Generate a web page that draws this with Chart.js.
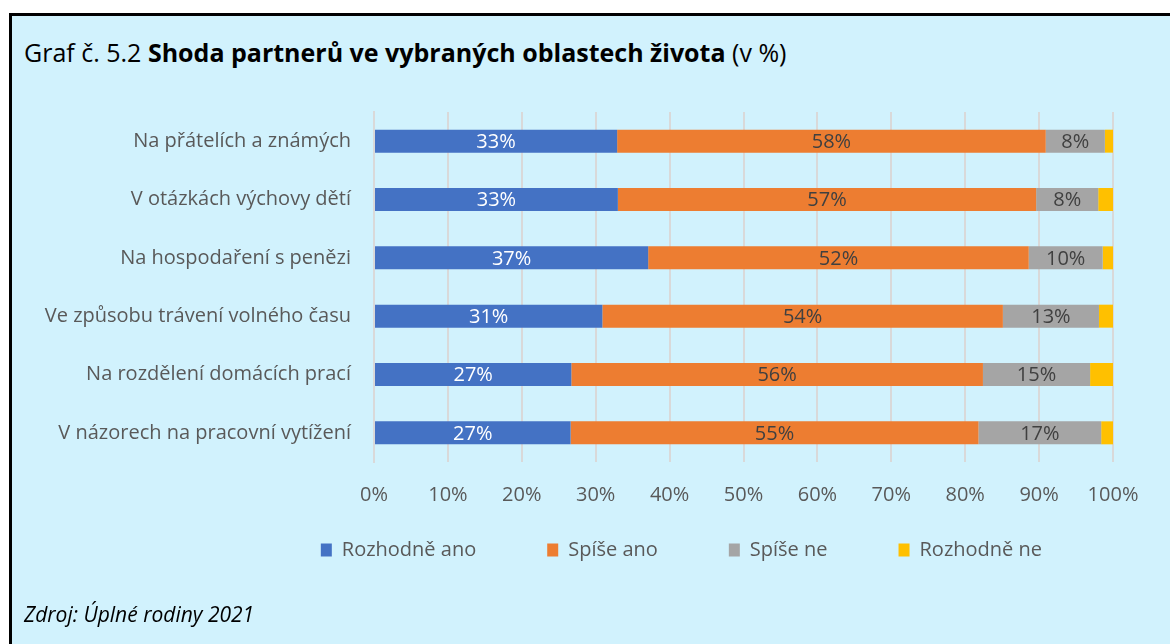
<!DOCTYPE html>
<html lang="cs">
<head>
<meta charset="UTF-8">
<title>Shoda partnerů ve vybraných oblastech života</title>
<script src="https://cdn.jsdelivr.net/npm/chart.js"></script>
<style>
    body {
        margin: 0;
        background: #ffffff;
        font-family: "Open Sans", "Noto Sans", sans-serif;
    }
    .ramecek {
        position: absolute;
        left: 9px;
        top: 13px;
        width: 1170px;
        height: 640px;
        background: #d1f2fd;
        border-left: 3px solid #000;
        border-top: 3px solid #000;
    }
    .titulek {
        position: absolute;
        left: 24px;
        top: 35px;
        font-size: 25px;
        color: #000;
        white-space: nowrap;
    }
    .zdroj {
        position: absolute;
        left: 24px;
        top: 600px;
        font-size: 21px;
        font-style: italic;
        color: #000;
    }
    canvas {
        position: absolute;
        left: 0;
        top: 0;
    }
</style>
</head>
<body>
<div class="ramecek"></div>
<div class="titulek">Graf č. 5.2 <b>Shoda partnerů ve vybraných oblastech života</b> (v %)</div>
<canvas id="graf" width="1170" height="644"></canvas>
<div class="zdroj">Zdroj: Úplné rodiny 2021</div>

<script>
    const oblasti = [
        'Na přátelích a známých',
        'V otázkách výchovy dětí',
        'Na hospodaření s penězi',
        'Ve způsobu trávení volného času',
        'Na rozdělení domácích prací',
        'V názorech na pracovní vytížení'
    ];
    const rozhodneAno = [32.9, 33.0, 37.1, 30.9, 26.7, 26.6];
    const spiseAno = [58.0, 56.6, 51.5, 54.2, 55.7, 55.2];
    const spiseNe = [8.0, 8.4, 10.0, 13.0, 14.5, 16.6];
    const rozhodneNe = [1.1, 2.0, 1.4, 1.9, 3.1, 1.6];
    const osaX = [0, 10, 20, 30, 40, 50, 60, 70, 80, 90, 100];

    // barvy popisku v pruzich (zluta bez popisku)
    const barvyPopisku = ['#ffffff', '#404040', '#404040', null];

    const popisky = {
        id: 'popisky',
        afterDatasetsDraw(chart) {
            const ctx = chart.ctx;
            ctx.save();
            ctx.font = '20px "Open Sans", "Noto Sans", sans-serif';
            ctx.textAlign = 'center';
            ctx.textBaseline = 'middle';
            chart.data.datasets.forEach((ds, i) => {
                if (!barvyPopisku[i]) return;
                ctx.fillStyle = barvyPopisku[i];
                chart.getDatasetMeta(i).data.forEach((bar, j) => {
                    const p = bar.getProps(['x', 'y', 'base'], true);
                    ctx.fillText(Math.round(ds.data[j]) + '%', (p.x + p.base) / 2, p.y + 1);
                });
            });
            ctx.restore();
        }
    };

    // legenda ma velke mezery (padding), tak ji posuneme blize k ose
    const posunLegendy = {
        id: 'posunLegendy',
        afterLayout(chart) {
            const lg = chart.legend;
            const dy = lg.top - 469;
            lg.top -= dy;
            lg.bottom -= dy;
        }
    };

    Chart.defaults.font.family = '"Open Sans", "Noto Sans", sans-serif';
    Chart.defaults.color = '#595959';

    new Chart(document.getElementById('graf'), {
        type: 'bar',
        data: {
            labels: oblasti,
            datasets: [
                { label: 'Rozhodně ano', data: rozhodneAno, backgroundColor: '#4472c4' },
                { label: 'Spíše ano', data: spiseAno, backgroundColor: '#ed7d31' },
                { label: 'Spíše ne', data: spiseNe, backgroundColor: '#a5a5a5' },
                { label: 'Rozhodně ne', data: rozhodneNe, backgroundColor: '#ffc000' }
            ]
        },
        options: {
            indexAxis: 'y',
            responsive: false,
            animation: false,
            barPercentage: 0.394,
            categoryPercentage: 1,
            layout: {
                padding: { left: 0, right: 57, top: 112, bottom: 15 }
            },
            scales: {
                x: {
                    stacked: true,
                    min: 0,
                    max: 100,
                    afterBuildTicks: (axis) => { axis.ticks = osaX.map(v => ({ value: v })); },
                    grid: { color: '#d9d9d9', lineWidth: 2, drawTicks: false },
                    border: { display: false },
                    ticks: {
                        padding: 21,
                        font: { size: 20 },
                        callback: (v) => v + '%'
                    }
                },
                y: {
                    stacked: true,
                    grid: { display: false, drawTicks: false },
                    border: { color: '#d9d9d9', width: 2 },
                    afterFit: (axis) => { axis.width = 374; },
                    ticks: {
                        padding: 23,
                        font: { size: 20 }
                    }
                }
            },
            plugins: {
                legend: {
                    position: 'bottom',
                    align: 'end',
                    labels: {
                        boxWidth: 11,
                        boxHeight: 13,
                        padding: 71,
                        font: { size: 20 },
                        color: '#595959'
                    }
                },
                tooltip: { enabled: false }
            }
        },
        plugins: [popisky, posunLegendy]
    });
</script>
</body>
</html>
